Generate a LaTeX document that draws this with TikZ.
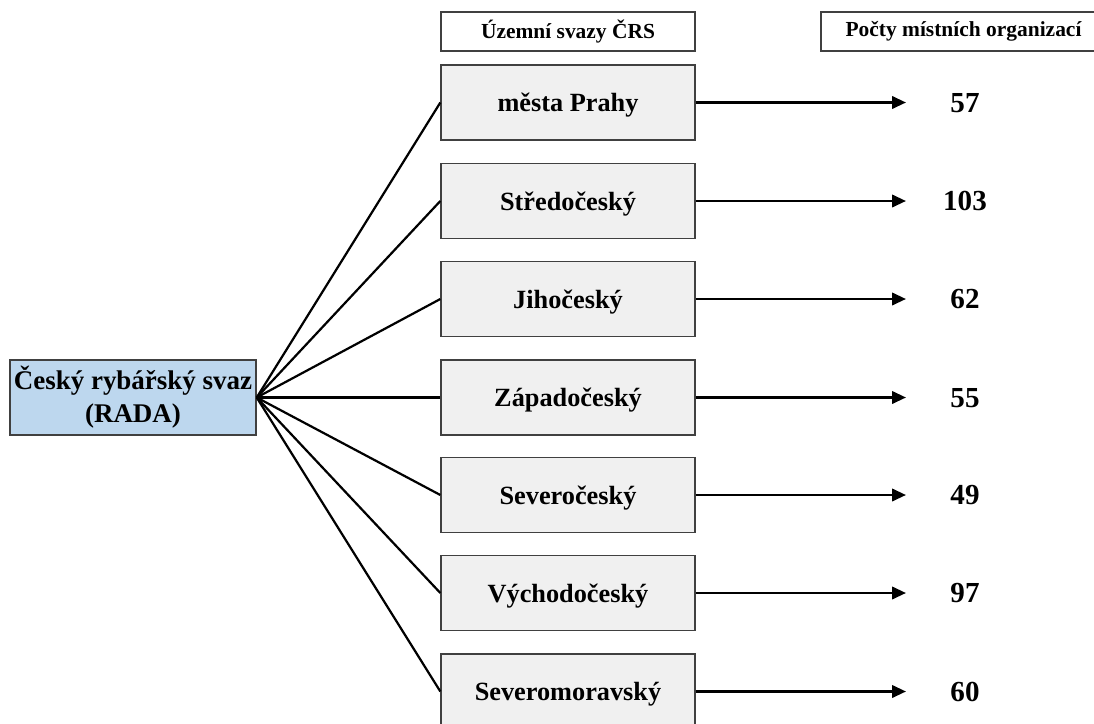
\documentclass[tikz,border=0pt]{standalone}
\usepackage{fontspec}
\setmainfont{Liberation Serif}
\usepackage{tikz}
\usetikzlibrary{arrows.meta}

\definecolor{radablue}{HTML}{BDD7EE}
\definecolor{boxgray}{HTML}{F0F0F0}
\definecolor{edgegray}{HTML}{404040}

\tikzset{
  svazbox/.style={draw=edgegray,line width=1pt,fill=boxgray,minimum width=64.5mm,minimum height=19mm,text depth=0pt,font=\bfseries\fontsize{19}{22}\selectfont},
  radabox/.style={draw=edgegray,line width=1pt,fill=radablue,minimum width=62.5mm,minimum height=19mm,inner xsep=1pt,align=center,font=\bfseries\fontsize{19.5}{24}\selectfont},
  headbox/.style={draw=edgegray,line width=1pt,fill=white,minimum height=9.9mm,font=\bfseries\fontsize{15.5}{18}\selectfont},
  pocet/.style={text depth=0pt,font=\bfseries\fontsize{21}{24}\selectfont},
  vetev/.style={line width=1.6pt},
  sipka/.style={line width=1.6pt,-{Triangle[length=10pt,width=9pt]}}
}

\begin{document}
\begin{tikzpicture}[x=0.254mm,y=-0.254mm]
\useasboundingbox (0,0) rectangle (1094,724);
% header boxes
\node [headbox,minimum width=64.5mm] (hsvazy) at (568,31.5) {Územní svazy ČRS};
\node [headbox,minimum width=72.4mm] (hpocty) at (963.5,31.5) {Počty místních organizací};
% the council
\node [radabox] (rada) at (133,397.5) {Český rybářský svaz\\(RADA)};
% territorial unions
\node [svazbox] (praha) at (568,102.5) {města Prahy};
\node [svazbox] (stred) at (568,201) {Středočeský};
\node [svazbox] (jih) at (568,299) {Jihočeský};
\node [svazbox] (zapad) at (568,397.5) {Západočeský};
\node [svazbox] (sever) at (568,495) {Severočeský};
\node [svazbox] (vychod) at (568,593) {Východočeský};
\node [svazbox] (morava) at (568,691.5) {Severomoravský};
% counts
\node [pocet] (npraha) at (965,102.5) {57};
\node [pocet] (nstred) at (965,201) {103};
\node [pocet] (njih) at (965,299) {62};
\node [pocet] (nzapad) at (965,397.5) {55};
\node [pocet] (nsever) at (965,495) {49};
\node [pocet] (nvychod) at (965,593) {97};
\node [pocet] (nmorava) at (965,691.5) {60};
% branches from the council
\foreach \s in {praha,stred,jih,zapad,sever,vychod,morava}
  \draw [vetev] (rada.east) -- (\s.west);
% arrows to the counts
\foreach \s in {praha,stred,jih,zapad,sever,vychod,morava}
  \draw [sipka] (\s.east) -- ([xshift=-15mm]n\s.center);
\end{tikzpicture}
\end{document}
